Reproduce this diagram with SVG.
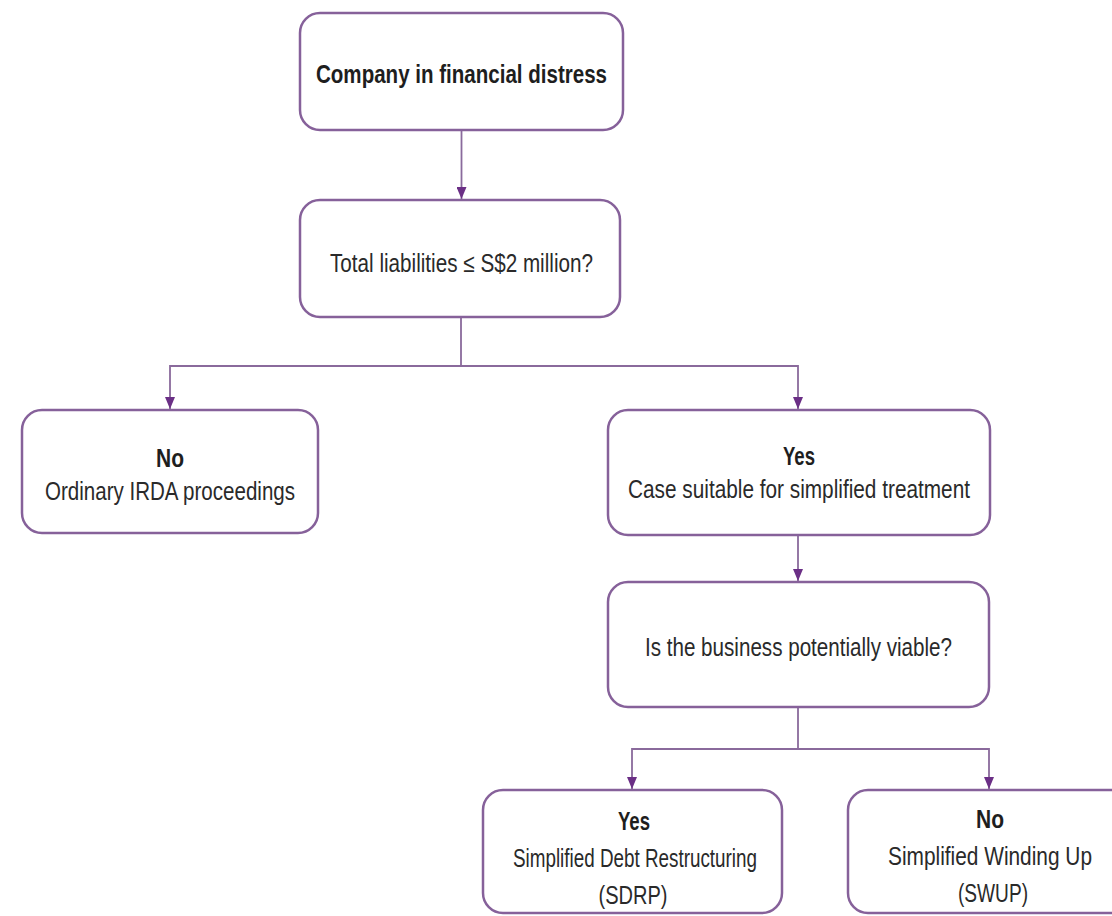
<svg xmlns="http://www.w3.org/2000/svg" width="1112" height="916" viewBox="0 0 1112 916">
<style>
.box{fill:#ffffff;stroke:#86619a;stroke-width:2.5}
.t{font-family:"Liberation Sans",Arial,sans-serif;font-size:26px;fill:#2a2a2a;text-anchor:middle}
.b{font-weight:bold;fill:#1e1e1e}
.c{fill:none;stroke:#8a6a9c;stroke-width:1.8}
</style>
<defs>
<marker id="ah" markerWidth="12" markerHeight="10" refX="12" refY="5" orient="auto" markerUnits="userSpaceOnUse" viewBox="0 0 12 10">
<path d="M0,0 L12,5 L0,10 Z" fill="#6b2f86"/>
</marker>
</defs>
<rect width="1112" height="916" fill="#ffffff"/>
<g id="connectors">
<path class="c" d="M461.5,130 V199" marker-end="url(#ah)"/>
<path class="c" d="M461,317 V366 H170 V409" marker-end="url(#ah)"/>
<path class="c" d="M461,366 H798 V409" marker-end="url(#ah)"/>
<path class="c" d="M798,535 V581" marker-end="url(#ah)"/>
<path class="c" d="M798,707 V749 H632 V789" marker-end="url(#ah)"/>
<path class="c" d="M798,749 H989 V789" marker-end="url(#ah)"/>
</g>
<g id="n1">
<rect class="box" x="300" y="13" width="323" height="117" rx="20"/>
<text class="t b" x="461.5" y="83" textLength="291" lengthAdjust="spacingAndGlyphs">Company in financial distress</text>
</g>
<g id="n2">
<rect class="box" x="300" y="200" width="320" height="117" rx="20"/>
<text class="t" x="461.5" y="272" textLength="263" lengthAdjust="spacingAndGlyphs">Total liabilities ≤ S$2 million?</text>
</g>
<g id="n3">
<rect class="box" x="22" y="410" width="296" height="123" rx="20"/>
<text class="t b" x="170" y="467" textLength="28" lengthAdjust="spacingAndGlyphs">No</text>
<text class="t" x="170" y="500" textLength="250" lengthAdjust="spacingAndGlyphs">Ordinary IRDA proceedings</text>
</g>
<g id="n4">
<rect class="box" x="608" y="410" width="382" height="125" rx="20"/>
<text class="t b" x="799" y="465" textLength="32" lengthAdjust="spacingAndGlyphs">Yes</text>
<text class="t" x="799" y="498" textLength="342" lengthAdjust="spacingAndGlyphs">Case suitable for simplified treatment</text>
</g>
<g id="n5">
<rect class="box" x="608" y="582" width="381" height="125" rx="20"/>
<text class="t" x="798.5" y="656" textLength="307" lengthAdjust="spacingAndGlyphs">Is the business potentially viable?</text>
</g>
<g id="n6">
<rect class="box" x="483" y="790" width="299" height="123" rx="20"/>
<text class="t b" x="634" y="830" textLength="32" lengthAdjust="spacingAndGlyphs">Yes</text>
<text class="t" x="635" y="867" textLength="244" lengthAdjust="spacingAndGlyphs">Simplified Debt Restructuring</text>
<text class="t" x="633" y="904" textLength="69" lengthAdjust="spacingAndGlyphs">(SDRP)</text>
</g>
<g id="n7">
<rect class="box" x="848" y="790" width="296" height="123" rx="20"/>
<text class="t b" x="990" y="828" textLength="28" lengthAdjust="spacingAndGlyphs">No</text>
<text class="t" x="990" y="865" textLength="204" lengthAdjust="spacingAndGlyphs">Simplified Winding Up</text>
<text class="t" x="993" y="902" textLength="70" lengthAdjust="spacingAndGlyphs">(SWUP)</text>
</g>
</svg>
